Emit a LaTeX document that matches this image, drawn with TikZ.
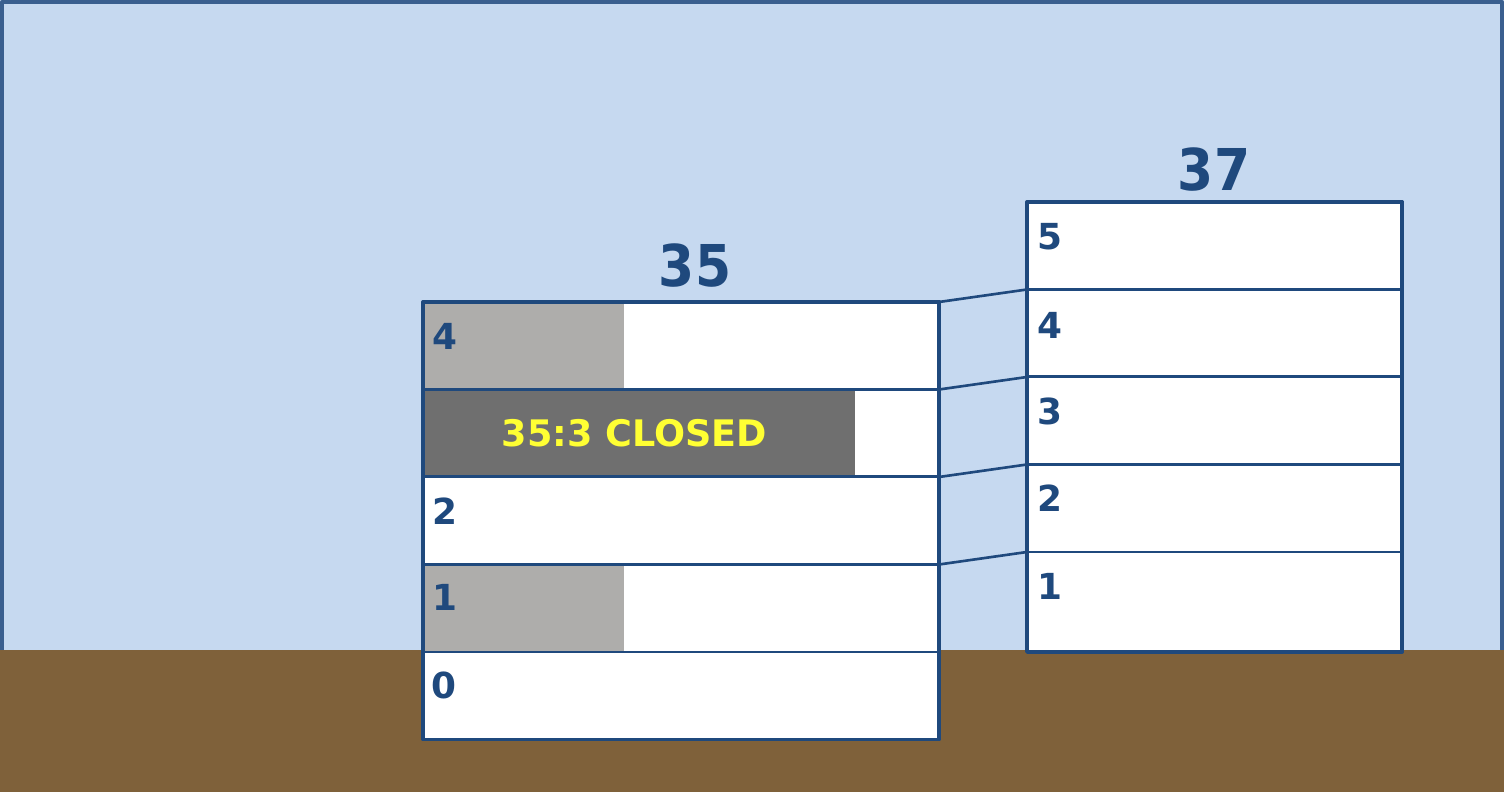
\documentclass[tikz,border=0pt]{standalone}
\usepackage{fontspec}
\setmainfont{DejaVu Sans}
\newfontfamily\condfont{DejaVu Sans Condensed}

\definecolor{sky}{HTML}{C6D9F0}
\definecolor{skyedge}{HTML}{3A5F8F}
\definecolor{ground}{HTML}{7F613A}
\definecolor{navy}{HTML}{1F497D}
\definecolor{lightgrey}{HTML}{AEADAB}
\definecolor{darkgrey}{HTML}{6F6F6F}
\definecolor{warn}{HTML}{FFFF33}

\begin{document}
\begin{tikzpicture}[line join=round,
lrow/.style={rectangle, draw=navy, line width=0.85pt, anchor=north west, minimum width=5.16cm, minimum height=0.875cm, inner sep=0pt, outer sep=0pt},
rrow/.style={rectangle, draw=navy, line width=0.85pt, anchor=north west, minimum width=3.75cm, minimum height=0.875cm, inner sep=0pt, outer sep=0pt},
num/.style={text=navy, font=\fontsize{10.2}{12}\selectfont\bfseries, inner sep=0pt, anchor=west},
title/.style={text=navy, font=\condfont\fontsize{16.4}{18}\selectfont\bfseries, inner sep=0pt},
closed/.style={text=warn, font=\fontsize{10.4}{12}\selectfont\bfseries, inner sep=0pt},
frame/.style={draw=navy, line width=1.1pt},
link/.style={draw=navy, line width=0.75pt}]

\useasboundingbox (0,0) rectangle (15.04,-7.92);

% sky and ground
\fill[sky] (0,0) rectangle (15.04,-6.5);
\draw[skyedge, line width=1.3pt] (0.022,-6.5) -- (0.022,-0.022) -- (15.018,-0.022) -- (15.018,-6.5);
\fill[ground] (0,-6.5) rectangle (15.04,-7.92);

% stack 35
\fill[white] (4.23,-3.02) rectangle (9.39,-7.395);
\fill[lightgrey] (4.23,-3.02) rectangle (6.24,-3.895);
\fill[darkgrey] (4.23,-3.895) rectangle (8.55,-4.77);
\fill[lightgrey] (4.23,-5.645) rectangle (6.24,-6.52);

\draw (6.95,-2.66) node[title] (T35) {35};
\draw (4.23,-3.02) node[lrow] (L4) {};
\draw (4.23,-3.895) node[lrow] (L3) {};
\draw (4.23,-4.77) node[lrow] (L2) {};
\draw (4.23,-5.645) node[lrow] (L1) {};
\draw (4.23,-6.52) node[lrow] (L0) {};
\draw[frame] (L4.north west) rectangle (L0.south east);

\draw (4.32,-3.36) node[num] (nL4) {4};
\draw (6.345,-4.335) node[closed] (C3) {35:3 CLOSED};
\draw (4.32,-5.11) node[num] (nL2) {2};
\draw (4.32,-5.97) node[num] (nL1) {1};
\draw (4.31,-6.85) node[num] (nL0) {0};

% stack 37
\draw (12.14,-1.70) node[title] (T37) {37};
\draw (10.27,-2.02) node[rrow, fill=white] (R5) {};
\draw (10.27,-2.895) node[rrow, fill=white] (R4) {};
\draw (10.27,-3.77) node[rrow, fill=white] (R3) {};
\draw (10.27,-4.645) node[rrow, fill=white] (R2) {};
\draw (10.27,-5.52) node[rrow, fill=white, minimum height=1cm] (R1) {};
\draw[frame] (R5.north west) rectangle (R1.south east);

\draw (10.37,-2.37) node[num] (nR5) {5};
\draw (10.37,-3.25) node[num] (nR4) {4};
\draw (10.37,-4.11) node[num] (nR3) {3};
\draw (10.37,-4.98) node[num] (nR2) {2};
\draw (10.37,-5.86) node[num] (nR1) {1};

% links between stacks
\draw[link] (L4.north east)--(R4.north west);
\draw[link] (L3.north east)--(R3.north west);
\draw[link] (L2.north east)--(R2.north west);
\draw[link] (L1.north east)--(R1.north west);

\end{tikzpicture}
\end{document}
